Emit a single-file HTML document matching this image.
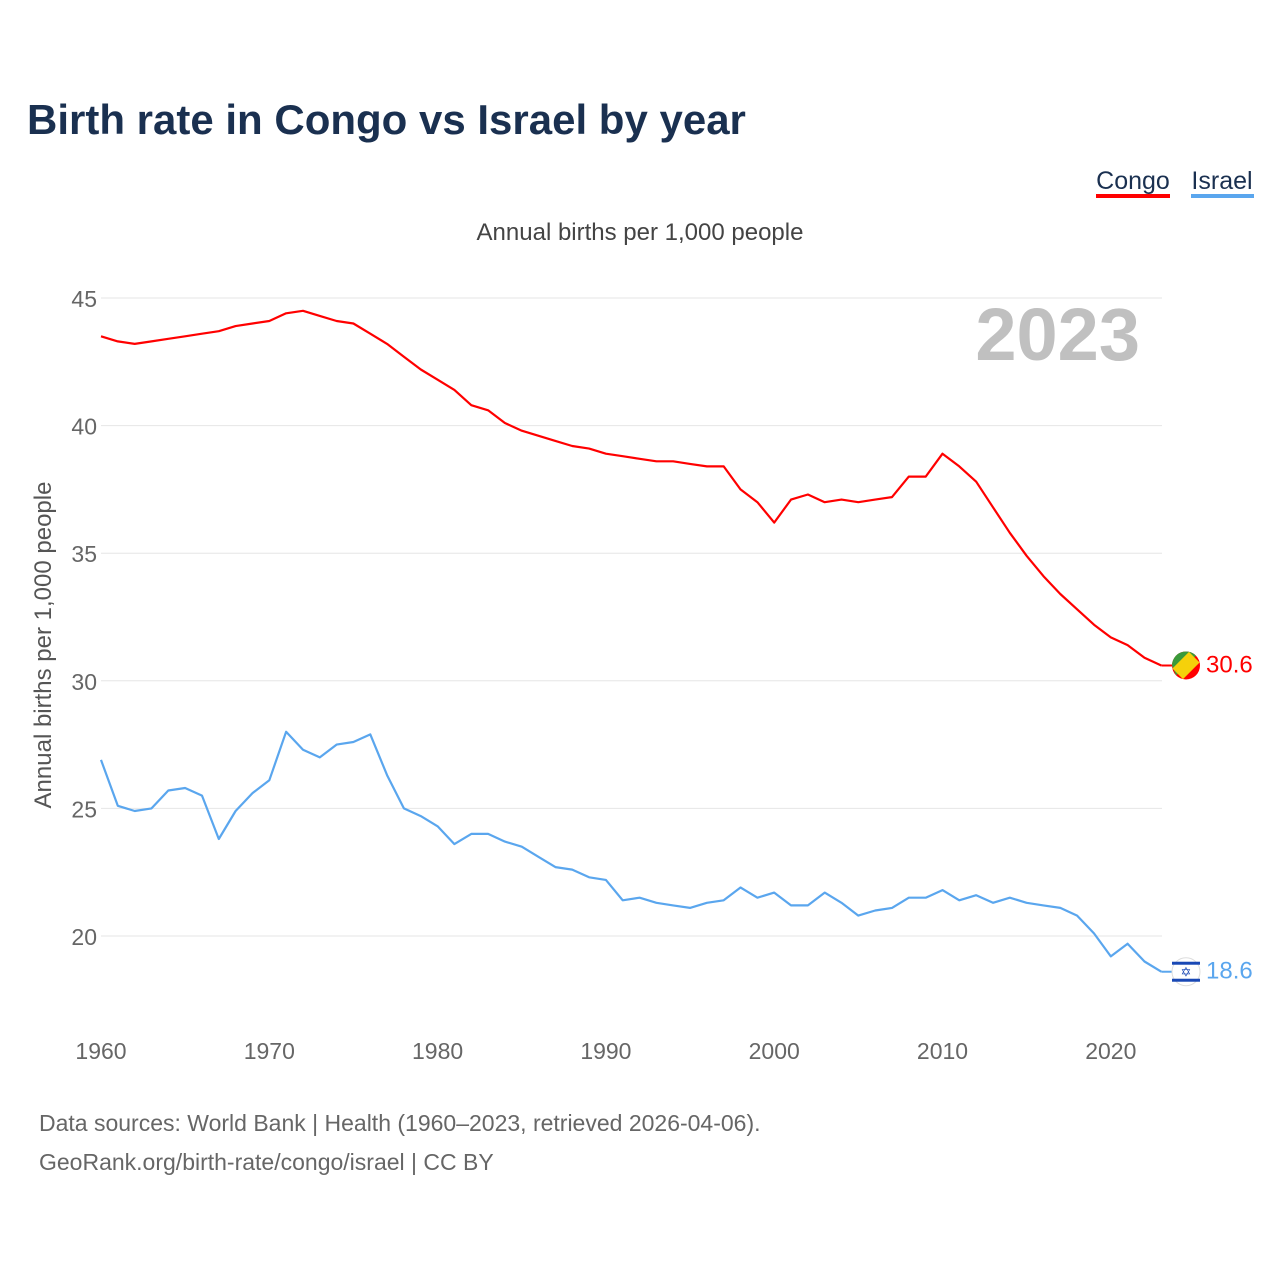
<!DOCTYPE html>
<html><head><meta charset="utf-8">
<style>
body{margin:0;background:#fff;font-family:"Liberation Sans",sans-serif;}
svg text{font-family:"Liberation Sans",sans-serif;}
</style></head>
<body>
<svg id="chart" width="1280" height="1280" viewBox="0 0 1280 1280" xmlns="http://www.w3.org/2000/svg">
<rect width="1280" height="1280" fill="#fff"/>
<text x="27" y="134" font-size="42" font-weight="bold" fill="#1a3050">Birth rate in Congo vs Israel by year</text>
<g>
<text x="1133" y="189" font-size="25" fill="#1a3050" text-anchor="middle">Congo</text>
<rect x="1096" y="194" width="74" height="4" fill="#ff0000"/>
</g>
<g>
<text x="1222" y="189" font-size="25" fill="#1a3050" text-anchor="middle">Israel</text>
<rect x="1191" y="194" width="63" height="4" fill="#5aa6ee"/>
</g>
<text x="640" y="240" font-size="24" fill="#444" text-anchor="middle">Annual births per 1,000 people</text>
<text transform="translate(51,645) rotate(-90)" font-size="24" fill="#555" text-anchor="middle">Annual births per 1,000 people</text>
<text x="1140" y="360" font-size="74" font-weight="bold" fill="#c0c0c0" text-anchor="end">2023</text>
<g id="grid"></g><g id="xt"></g><g id="series"></g>
<text x="39" y="1131" font-size="23" fill="#666">Data sources: World Bank | Health (1960–2023, retrieved 2026-04-06).</text>
<text x="39" y="1170" font-size="23" fill="#666">GeoRank.org/birth-rate/congo/israel | CC BY</text>
</svg>
<script>
const years=[];for(let y=1960;y<=2023;y++)years.push(y);
const congo=[43.5,43.3,43.2,43.3,43.4,43.5,43.6,43.7,43.9,44.0,44.1,44.4,44.5,44.3,44.1,44.0,43.6,43.2,42.7,42.2,41.8,41.4,40.8,40.6,40.1,39.8,39.6,39.4,39.2,39.1,38.9,38.8,38.7,38.6,38.6,38.5,38.4,38.4,37.5,37.0,36.2,37.1,37.3,37.0,37.1,37.0,37.1,37.2,38.0,38.0,38.9,38.4,37.8,36.8,35.8,34.9,34.1,33.4,32.8,32.2,31.7,31.4,30.9,30.6];
const israel=[26.9,25.1,24.9,25.0,25.7,25.8,25.5,23.8,24.9,25.6,26.1,28.0,27.3,27.0,27.5,27.6,27.9,26.3,25.0,24.7,24.3,23.6,24.0,24.0,23.7,23.5,23.1,22.7,22.6,22.3,22.2,21.4,21.5,21.3,21.2,21.1,21.3,21.4,21.9,21.5,21.7,21.2,21.2,21.7,21.3,20.8,21.0,21.1,21.5,21.5,21.8,21.4,21.6,21.3,21.5,21.3,21.2,21.1,20.8,20.1,19.2,19.7,19.0,18.6];
const yTicks=[20,25,30,35,40,45];
const xTicks=[1960,1970,1980,1990,2000,2010,2020];
const NS="http://www.w3.org/2000/svg";
const X=y=>101+(y-1960)*16.83;
const Y=v=>298+(45-v)*25.52;
function el(t,a,p){const e=document.createElementNS(NS,t);for(const k in a)e.setAttribute(k,a[k]);p.appendChild(e);return e;}
const grid=document.getElementById('grid');
yTicks.forEach(v=>{
 const l=el('line',{x1:101,x2:1162,y1:Y(v),y2:Y(v),stroke:'#e6e6e6','stroke-width':1},grid);
 
 
 const t=el('text',{x:97,y:Y(v)+9,'font-size':23,fill:'#666','text-anchor':'end'},grid);
 t.textContent=v;
 
 
});
const xt=document.getElementById('xt');
xTicks.forEach(v=>{
 const t=el('text',{x:X(v),y:1059,'font-size':23,fill:'#666','text-anchor':'middle'},xt);
 t.textContent=v;
 
 
});
const s=document.getElementById('series');
function line(data,col,name,lbl){
 const d=data.map((v,i)=>(i?'L':'M')+X(years[i]).toFixed(1)+','+Y(v).toFixed(1)).join('');
 const p=el('path',{d:d,fill:'none',stroke:col,'stroke-width':2.2,'stroke-linejoin':'round'},s);
 
 
 const last=data[data.length-1];
 const cy=Y(last);
 el('line',{x1:X(2023),x2:1172,y1:cy,y2:cy,stroke:col,'stroke-width':2},s);
 const c=el('circle',{cx:1186,cy:cy,r:14,fill:col},s);
 
 
 if(name==='congo'){
  el('path',{d:`M${1172},${cy} A14,14 0 0 1 ${1186+9.9},${cy-9.9} L${1186-9.9},${cy+9.9} Z`,fill:'#3a9a3a'},s);
  el('path',{d:`M${1186+3},${cy-13.6} L${1186+13.6},${cy-3} L${1186-3},${cy+13.6} L${1186-13.6},${cy+3}Z`,fill:'#f5d10a'},s);
 }else{
  c.setAttribute('fill','#fff');c.setAttribute('stroke','#ddd');
  el('rect',{x:1172,y:cy-10,width:28,height:3,fill:'#1948b5'},s);
  el('rect',{x:1172,y:cy+7,width:28,height:3,fill:'#1948b5'},s);
  const st=el('text',{x:1186,y:cy+5,'font-size':13,fill:'#1948b5','text-anchor':'middle'},s);st.textContent='✡';
 }
 const t=el('text',{x:1206,y:cy+7,'font-size':24,fill:col},s);
 t.textContent=lbl(last);
 
 
}
line(congo,'#ff0000','congo',v=>v.toFixed(1));
line(israel,'#5aa6ee','israel',v=>v.toFixed(1));
</script>
</body></html>
